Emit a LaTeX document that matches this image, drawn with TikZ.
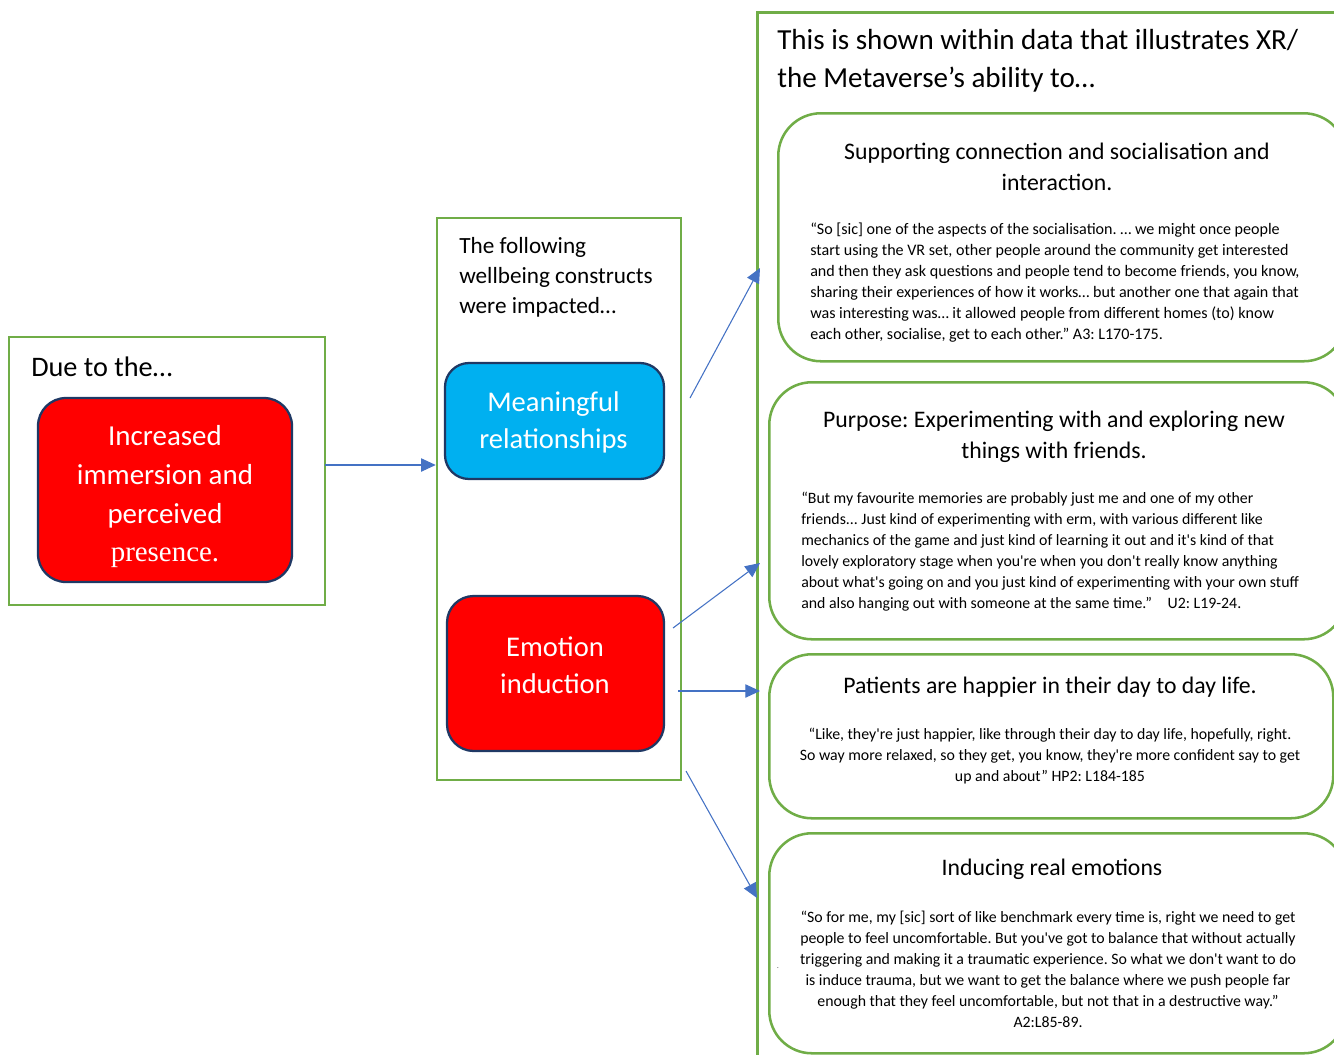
\documentclass[tikz,border=0pt]{standalone}
\usepackage{fontspec}
\setmainfont{Carlito}
\newfontfamily\serifpart{Liberation Serif}
\usepackage{xcolor}
\usepackage{tikz}
\usetikzlibrary{arrows.meta, positioning}
\definecolor{figgreen}{RGB}{112,173,71}
\definecolor{figblue}{RGB}{68,114,196}
\definecolor{figcyan}{RGB}{0,176,240}
\definecolor{figred}{RGB}{255,0,0}
\definecolor{fignavy}{RGB}{31,56,100}
\newcommand{\sq}{\textquotesingle}
\frenchspacing
\tikzstyle{linkarrow} = [-{Triangle[length=11pt, width=10pt]}, line width=0.8pt, draw=figblue]
\tikzset{
    framebox/.style={draw=figgreen, line width=1.9pt, inner sep=0pt},
    construct/.style={draw=fignavy, line width=1.7pt, rounded corners=20pt, inner sep=0pt},
    constructtext/.style={text=white, align=center, inner sep=0pt},
    quotebox/.style={draw=figgreen, line width=1.9pt, rounded corners=32pt,
        anchor=north west, inner sep=0pt},
    heading/.style={font=\fontsize{17.8}{23.25}\selectfont, align=center, inner sep=0pt},
    quotetext/.style={font=\fontsize{11.87}{15.75}\selectfont, inner sep=0pt},
    boxtitle/.style={anchor=west, align=left, inner sep=0pt},
}

\begin{document}
\begin{tikzpicture}[x=0.75pt, y=-0.75pt]
    \useasboundingbox (0,0) rectangle (1334,1054);
    \clip (0,0) rectangle (1334,1054);

    % cause column
    \node[framebox, minimum width=237pt, minimum height=201pt] (lbox) at (167,471) {};
    \node[boxtitle, font=\fontsize{21.2}{24}\selectfont] (duetitle) at (31,367) {Due to the\dots};
    \node[construct, fill=figred, minimum width=190.5pt, minimum height=138pt,
        rounded corners=21pt] (cause) at (165,490) {};
    \node[constructtext, font=\fontsize{21.7}{29}\selectfont] (causetext) at (165,497)
        {Increased\\immersion and\\perceived\\{\serifpart presence.}};

    % constructs column
    \node[framebox, minimum width=183pt, minimum height=421.5pt] (mbox) at (559,499) {};
    \node[boxtitle, font=\fontsize{17.4}{22.5}\selectfont] (consttitle) at (459,277)
        {The following\\wellbeing constructs\\were impacted\dots};
    \node[construct, fill=figcyan, minimum width=164.25pt, minimum height=87pt,
        rounded corners=18pt] (relations) at (554.5,421) {};
    \node[constructtext, font=\fontsize{21.4}{27.75}\selectfont] (reltext) at (553.5,422)
        {Meaningful\\relationships};
    \node[construct, fill=figred, minimum width=162.75pt, minimum height=116.25pt]
        (emotion) at (555.5,673.5) {};
    \node[constructtext, font=\fontsize{21.4}{27.75}\selectfont] (emotext) at (555,665)
        {Emotion\\induction};

    % evidence column
    \node[framebox, anchor=north west, minimum width=525pt, minimum height=825pt] (xrbox) at (756,11) {};
    \node[boxtitle, font=\fontsize{21.8}{28.5}\selectfont] (xrtitle) at (777,61)
        {This is shown within data that illustrates XR/\\the Metaverse’s ability to\dots};

    \node[quotebox, minimum width=426pt, minimum height=186pt] (q1) at (777,112) {};
    \node[heading] (q1head) at (1057,167) {Supporting connection and socialisation and\\interaction.};
    \node[quotetext, anchor=west, align=left, font=\fontsize{12.05}{15.75}\selectfont] (q1text) at (810,283)
        {“So [sic] one of the aspects of the socialisation. … we might once people\\
        start using the VR set, other people around the community get interested\\
        and then they ask questions and people tend to become friends, you know,\\
        sharing their experiences of how it works… but another one that again that\\
        was interesting was… it allowed people from different homes (to) know\\
        each other, socialise, get to each other.” A3: L170-175.};

    \node[quotebox, minimum width=432.75pt, minimum height=192.75pt] (q2) at (768,381) {};
    \node[heading] (q2head) at (1054,437) {Purpose: Experimenting with and exploring new\\things with friends.};
    \node[quotetext, anchor=west, align=left] (q2text) at (801,552)
        {“But my favourite memories are probably just me and one of my other\\
        friends... Just kind of experimenting with erm, with various different like\\
        mechanics of the game and just kind of learning it out and it\sq s kind of that\\
        lovely exploratory stage when you\sq re when you don\sq t really know anything\\
        about what\sq s going on and you just kind of experimenting with your own stuff\\
        and also hanging out with someone at the same time.”\quad U2: L19-24.};

    \node[quotebox, minimum width=423pt, minimum height=123pt] (q3) at (768,653) {};
    \node[heading] (q3head) at (1050,687) {Patients are happier in their day to day life.};
    \node[quotetext, align=center] (q3text) at (1050,756)
        {“Like, they\sq re just happier, like through their day to day life, hopefully, right.\\
        So way more relaxed, so they get, you know, they\sq re more confident say to get\\
        up and about” HP2: L184-185};

    \node[quotebox, minimum width=432.75pt, minimum height=165pt] (q4) at (768,832) {};
    \node[heading] (q4head) at (1052,869) {Inducing real emotions};
    \node[quotetext, align=center] (q4text) at (1048,969.5)
        {“So for me, my [sic] sort of like benchmark every time is, right we need to get\\
        people to feel uncomfortable. But you\sq ve got to balance that without actually\\
        triggering and making it a traumatic experience. So what we don\sq t want to do\\
        is induce trauma, but we want to get the balance where we push people far\\
        enough that they feel uncomfortable, but not that in a destructive way.”\\
        A2:L85-89.};
    \node[font=\tiny, inner sep=0pt] (q4dot) at (778,968) {.};

    % links
    \coordinate (causeout) at (325,465);
    \coordinate (relout) at (690,398);
    \coordinate (q1in) at (760,268);
    \coordinate (emoout1) at (673,628);
    \coordinate (q2in) at (760,563);
    \coordinate (emoout2) at (678,691);
    \coordinate (q3in) at (760,691);
    \coordinate (emoout3) at (686,771);
    \coordinate (q4in) at (757,898);
    \draw[linkarrow] (causeout) -- (causeout -| mbox.west);
    \draw[linkarrow] (relout) -- (q1in);
    \draw[linkarrow] (emoout1) -- (q2in);
    \draw[linkarrow] (emoout2) -- (q3in);
    \draw[linkarrow] (emoout3) -- (q4in);
\end{tikzpicture}
\end{document}
